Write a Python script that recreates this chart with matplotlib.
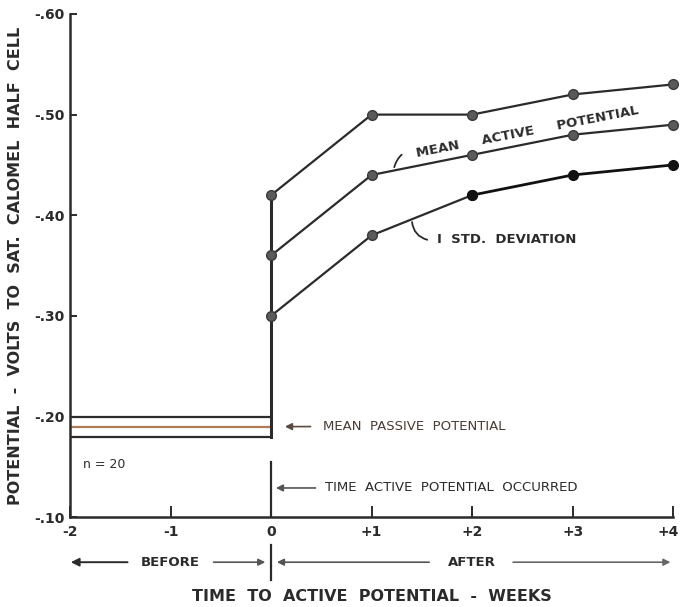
import matplotlib
matplotlib.use("Agg")
import matplotlib.pyplot as plt
from matplotlib.ticker import FuncFormatter
import matplotlib.transforms as mtransforms

# Weeks relative to the onset of active potential
weeks_after = [0, 1, 2, 3, 4]
upper_band = [-0.42, -0.50, -0.50, -0.52, -0.53]
mean_active = [-0.36, -0.44, -0.46, -0.48, -0.49]
lower_band = [-0.30, -0.38, -0.42, -0.44, -0.45]

# Passive potential before onset (upper, mean, lower)
passive_span = [-2, 0]
passive_upper = -0.20
passive_mean = -0.19
passive_lower = -0.18

x_ticks = [-2, -1, 0, 1, 2, 3, 4]
x_tick_labels = ["-2", "-1", "0", "+1", "+2", "+3", "+4"]
y_ticks = [-0.60, -0.50, -0.40, -0.30, -0.20, -0.10]
onset_marker_top = -0.155
sample_label = "n = 20"

INK = "#2b2b2b"
BROWN = "#b07a55"
plt.rcParams["font.family"] = ["DejaVu Sans"]

fig = plt.figure(figsize=(6.8, 6.07), dpi=100)
ax = fig.add_axes([0.103, 0.148, 0.887, 0.829])

ax.set_xlim(-2, 4)
ax.set_ylim(-0.10, -0.60)

# Passive band
ax.plot(passive_span, [passive_upper] * 2, color=INK, lw=1.6)
ax.plot(passive_span, [passive_mean] * 2, color=BROWN, lw=1.6)
ax.plot(passive_span, [passive_lower] * 2, color=INK, lw=1.6)

# Jump at onset
ax.plot([0, 0], [passive_lower, upper_band[0]], color=INK, lw=2.2)
# Onset marker rising from the x-axis
ax.plot([0, 0], [-0.10, onset_marker_top], color=INK, lw=1.6)

mk = dict(marker="o", markersize=7, markerfacecolor="#5a5a5a",
          markeredgecolor="#3a3a3a", markeredgewidth=1.0)
ax.plot(weeks_after, upper_band, color=INK, lw=1.6, clip_on=False, **mk)
ax.plot(weeks_after, mean_active, color=INK, lw=1.6, clip_on=False, **mk)
ax.plot(weeks_after[:3], lower_band[:3], color=INK, lw=1.6, clip_on=False, **mk)
ax.plot(weeks_after[2:], lower_band[2:], color="#111111", lw=2.0,
        marker="o", markersize=7, markerfacecolor="#111111",
        markeredgecolor="#111111", clip_on=False)

# Axes styling
for side in ("top", "right"):
    ax.spines[side].set_visible(False)
for side in ("left", "bottom"):
    ax.spines[side].set_linewidth(1.8)
    ax.spines[side].set_color(INK)

ax.set_xticks(x_ticks)
ax.set_xticklabels(x_tick_labels)
ax.set_yticks(y_ticks)
ax.yaxis.set_major_formatter(FuncFormatter(lambda v, p: "-.%02d" % round(abs(v) * 100)))
ax.tick_params(axis="x", direction="in", length=8, width=1.4, color=INK,
               labelsize=10, labelcolor=INK, pad=6)
ax.tick_params(axis="y", direction="in", length=5, width=1.4, color=INK,
               labelsize=10, labelcolor=INK, pad=4)
for lbl in ax.get_xticklabels() + ax.get_yticklabels():
    lbl.set_fontweight("bold")
# keep the right-most tick label inside the canvas
last = ax.get_xticklabels()[-1]
last.set_transform(last.get_transform() +
                   mtransforms.ScaledTranslation(-5 / 100, 0, fig.dpi_scale_trans))

ax.set_ylabel("POTENTIAL  -  VOLTS  TO  SAT.  CALOMEL  HALF  CELL",
              fontsize=11.5, fontweight="bold", color=INK, labelpad=8)
ax.set_xlabel("TIME  TO  ACTIVE  POTENTIAL  -  WEEKS",
              fontsize=11.5, fontweight="bold", color=INK, labelpad=36)

# Annotations
ax.text(-1.87, -0.152, sample_label, fontsize=9, color=INK,
        va="center", ha="left")

ax.annotate("", xy=(0.11, passive_mean), xytext=(0.42, passive_mean),
            arrowprops=dict(arrowstyle="-|>", color="#5a4a40", lw=1.2,
                            mutation_scale=10))
ax.text(0.52, passive_mean, "MEAN  PASSIVE  POTENTIAL", fontsize=9.5,
        color="#4a3b33", va="center", ha="left")

ax.annotate("", xy=(0.02, -0.129), xytext=(0.47, -0.129),
            arrowprops=dict(arrowstyle="-|>", color="#555555", lw=1.2,
                            mutation_scale=10))
ax.text(0.54, -0.129, "TIME  ACTIVE  POTENTIAL  OCCURRED", fontsize=9.5,
        color=INK, va="center", ha="left")

ax.text(2.55, -0.483, "MEAN     ACTIVE     POTENTIAL", fontsize=9.5,
        color=INK, rotation=11, ha="center", va="center",
        rotation_mode="anchor", fontweight="bold")
ax.annotate("", xy=(1.22, -0.445), xytext=(1.32, -0.462),
            arrowprops=dict(arrowstyle="-", color=INK, lw=1.3,
                            connectionstyle="arc3,rad=0.2"))

ax.annotate("", xy=(1.40, -0.396), xytext=(1.58, -0.375),
            arrowprops=dict(arrowstyle="-", color=INK, lw=1.3,
                            connectionstyle="arc3,rad=-0.4"))
ax.text(1.65, -0.376, "I  STD.  DEVIATION", fontsize=9.5, color=INK,
        va="center", ha="left", fontweight="bold")

# BEFORE / AFTER row beneath the axis
trans = mtransforms.blended_transform_factory(ax.transData, ax.transAxes)
row_y = -0.0895
ax.annotate("", xy=(-2.02, row_y), xytext=(-1.40, row_y),
            xycoords=trans, textcoords=trans, annotation_clip=False,
            arrowprops=dict(arrowstyle="-|>", color=INK, lw=1.4,
                            mutation_scale=12))
ax.text(-1.0, row_y, "BEFORE", transform=trans, fontsize=9.5,
        fontweight="bold", color=INK, ha="center", va="center")
ax.annotate("", xy=(-0.03, row_y), xytext=(-0.60, row_y),
            xycoords=trans, textcoords=trans, annotation_clip=False,
            arrowprops=dict(arrowstyle="-|>", color="#555555", lw=1.2,
                            mutation_scale=10))
ax.annotate("", xy=(0.03, row_y), xytext=(1.60, row_y),
            xycoords=trans, textcoords=trans, annotation_clip=False,
            arrowprops=dict(arrowstyle="-|>", color="#555555", lw=1.2,
                            mutation_scale=10))
ax.text(2.0, row_y, "AFTER", transform=trans, fontsize=9.5,
        fontweight="bold", color=INK, ha="center", va="center")
ax.annotate("", xy=(4.0, row_y), xytext=(2.38, row_y),
            xycoords=trans, textcoords=trans, annotation_clip=False,
            arrowprops=dict(arrowstyle="-|>", color="#666666", lw=1.2,
                            mutation_scale=10))
ax.plot([0, 0], [-0.056, -0.125], transform=trans, color=INK, lw=1.6,
        clip_on=False)

fig.savefig("out.png", dpi=100, facecolor="white")
